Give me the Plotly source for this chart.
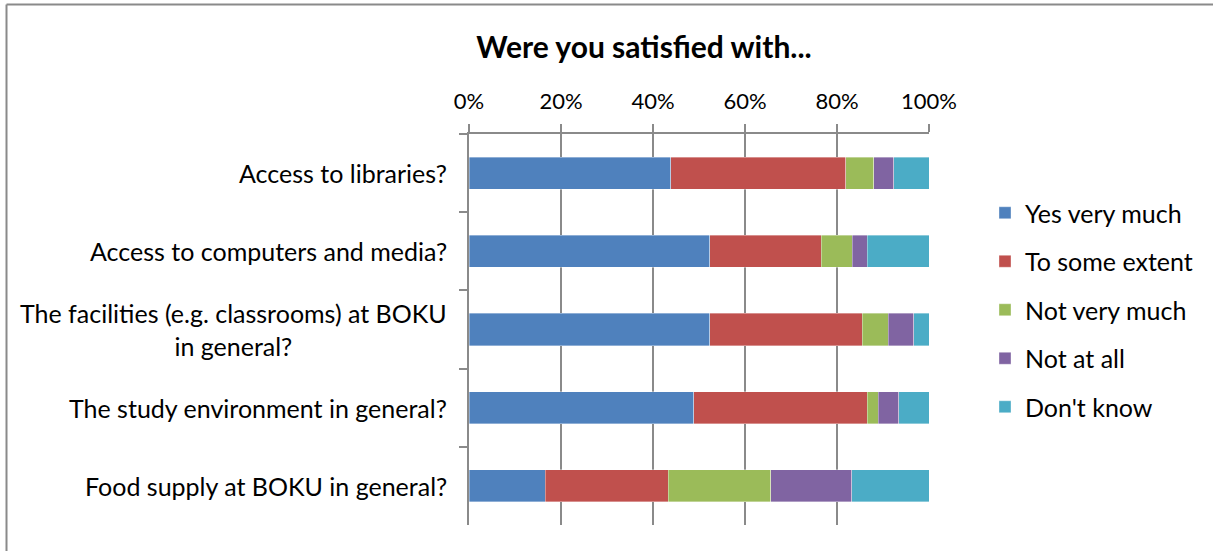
import plotly.graph_objects as go

categories = [
    "Access to libraries?",
    "Access to computers and media?",
    "The facilities (e.g. classrooms) at BOKU<br>in general?",
    "The study environment in general?",
    "Food supply at BOKU in general?",
]
series_names = ["Yes very much", "To some extent", "Not very much", "Not at all", "Don't know"]
yes_very_much = [43.9, 52.3, 52.3, 48.9, 16.6]
to_some_extent = [38.0, 24.3, 33.2, 37.7, 26.7]
not_very_much = [6.1, 6.7, 5.6, 2.4, 22.3]
not_at_all = [4.3, 3.3, 5.6, 4.4, 17.6]
dont_know = [7.7, 13.4, 3.3, 6.6, 16.8]
colors = ["#4F81BD", "#C0504D", "#9BBB59", "#8064A2", "#4BACC6"]
x_ticks = [0, 20, 40, 60, 80, 100]

FONT = "Lato"
W, H = 1213, 551
L, R, T, B = 469, 1213 - 929, 134, 551 - 525
pw, ph = W - L - R, H - T - B

fig = go.Figure()
for name, vals, col in zip(series_names,
                           [yes_very_much, to_some_extent, not_very_much, not_at_all, dont_know],
                           colors):
    fig.add_trace(go.Bar(
        y=categories, x=vals, name=name, orientation="h",
        marker=dict(color=col, line=dict(color="rgba(255,255,255,0.6)", width=0.6)),
        legendgroup=name,
    ))

for c in categories:
    fig.add_annotation(
        x=(449 - L) / pw, xref="paper", y=c, yref="y",
        text=c, showarrow=False, xanchor="right", align="center",
        font=dict(family=FONT, size=25, color="#000000"),
    )

gray = "#8a8a8a"
fig.add_shape(type="line", xref="paper", yref="paper",
              x0=(6.5 - L) / pw, x1=(W - L) / pw,
              y0=1 + (T - 4.5) / ph, y1=1 + (T - 4.5) / ph,
              line=dict(color=gray, width=2))
fig.add_shape(type="line", xref="paper", yref="paper",
              x0=(6.5 - L) / pw, x1=(6.5 - L) / pw,
              y0=1 + (T - 4.5) / ph, y1=-B / ph,
              line=dict(color=gray, width=2))

fig.update_layout(
    width=W, height=H,
    margin=dict(l=L, r=R, t=T, b=B, autoexpand=False),
    barmode="stack", bargap=0.59,
    plot_bgcolor="white", paper_bgcolor="white",
    font=dict(family=FONT, size=25, color="#000000"),
    title=dict(text="<b>Were you satisfied with...</b>", x=644 / W, xanchor="center",
               y=1 - 47 / H, yanchor="middle",
               font=dict(family=FONT, size=30, color="#000000")),
    xaxis=dict(side="top", range=[0, 100], tickvals=x_ticks,
               ticktext=[f"{v}%" for v in x_ticks],
               showgrid=True, gridcolor=gray, gridwidth=2,
               showline=True, linecolor=gray, linewidth=2,
               ticks="outside", ticklen=8, tickcolor=gray, tickwidth=2,
               ticklabelstandoff=6,
               zeroline=False, fixedrange=True,
               tickfont=dict(family=FONT, size=22)),
    yaxis=dict(autorange="reversed", showticklabels=False,
               showline=True, linecolor=gray, linewidth=2,
               ticks="outside", ticklen=8, tickcolor=gray, tickwidth=2,
               tickson="boundaries", showgrid=False, fixedrange=True),
    legend=dict(x=(985 - L) / pw, xanchor="left", y=1 - (190 - T) / ph, yanchor="top",
                traceorder="grouped", tracegroupgap=13,
                font=dict(family=FONT, size=25, color="#000000"),
                bgcolor="rgba(0,0,0,0)"),
    showlegend=True,
)

fig.write_html("out.html",
               config={"displayModeBar": False},
               post_script=("document.documentElement.style.overflow='hidden';"
                            "document.body.style.margin='0';document.body.style.padding='0';"
                            "document.body.style.overflow='hidden';"))
